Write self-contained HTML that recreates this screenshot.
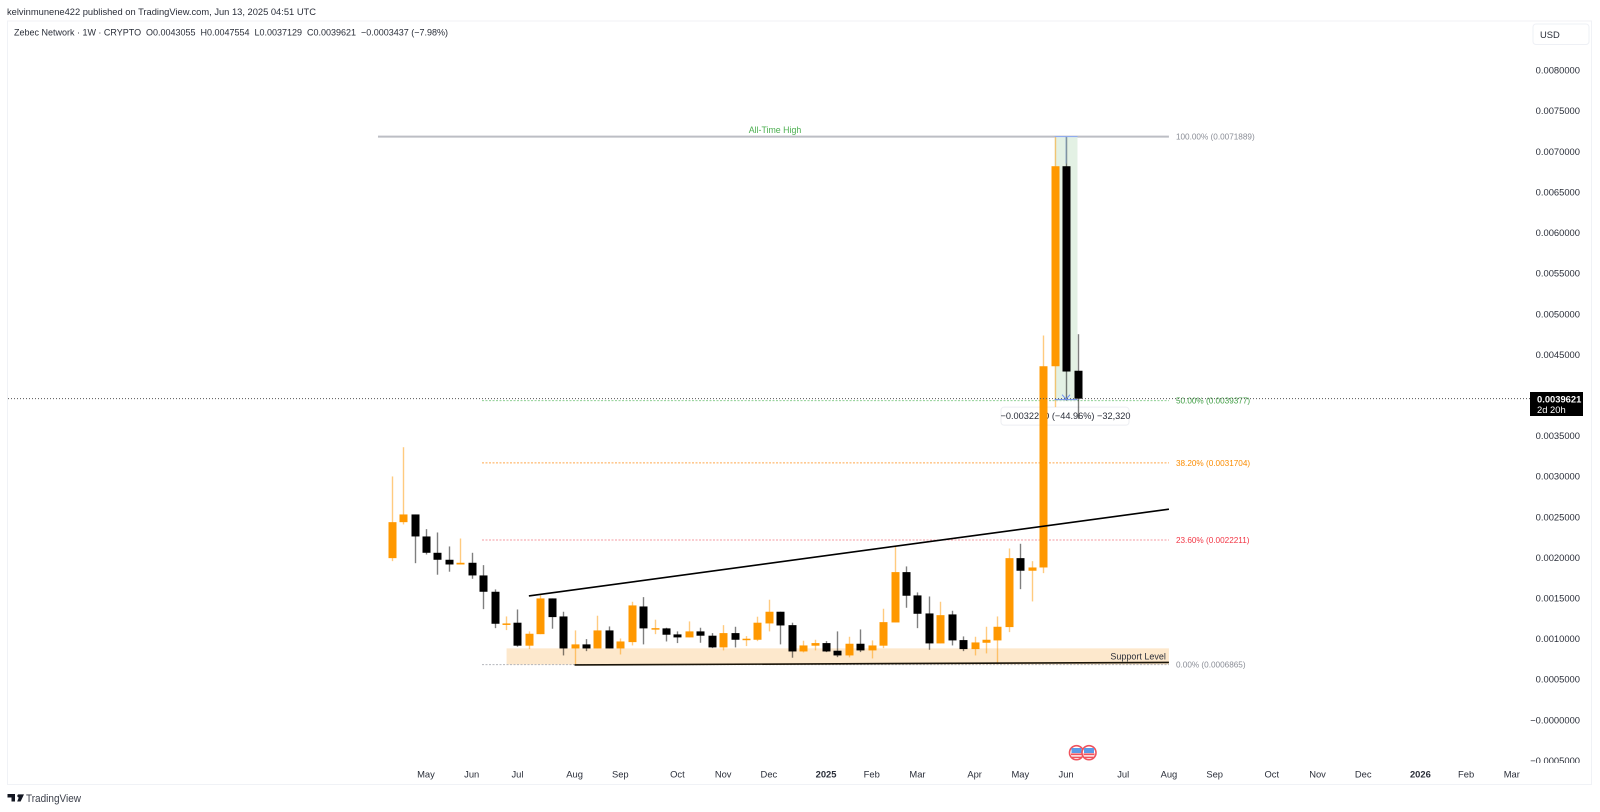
<!DOCTYPE html>
<html lang="en">
<head>
<meta charset="utf-8">
<title>Zebec Network weekly chart</title>
<style>
html,body{margin:0;padding:0;background:#fff;width:1600px;height:812px;overflow:hidden}
svg{display:block;font-family:"Liberation Sans",sans-serif}
</style>
</head>
<body>
<svg id="chart" xmlns="http://www.w3.org/2000/svg" width="1600" height="812" viewBox="0 0 1600 812">
  <rect x="0" y="0" width="1600" height="812" fill="#ffffff"/>
  <text x="7" y="15" font-size="9.4" textLength="309" lengthAdjust="spacingAndGlyphs" fill="#2a2e39">kelvinmunene422 published on TradingView.com, Jun 13, 2025 04:51 UTC</text>
  <rect x="7.5" y="21" width="1584" height="763.5" fill="none" stroke="#f0f2f6" stroke-width="1"/>
  <g id="drawings-back"></g>
  <g id="candles"></g>
  <g id="drawings-front"></g>
  <rect x="8" y="763" width="1583" height="21" fill="#ffffff"/>
  <g id="price-axis"></g>
  <g id="time-axis"></g>
  <text x="14" y="35.5" font-size="9.4" textLength="434" lengthAdjust="spacingAndGlyphs" fill="#2a2e39" xml:space="preserve">Zebec Network · 1W · CRYPTO  O0.0043055  H0.0047554  L0.0037129  C0.0039621  −0.0003437 (−7.98%)</text>
  <g>
    <rect x="1533" y="24" width="56" height="20.5" rx="3" fill="#ffffff" stroke="#eef0f5"/>
    <text x="1540" y="38" font-size="9.4" fill="#2a2e39">USD</text>
  </g>
  <g>
    <rect x="1530" y="392" width="53" height="24" fill="#000000"/>
    <text x="1537" y="402.5" font-size="9.4" font-weight="bold" fill="#ffffff">0.0039621</text>
    <text x="1537" y="413" font-size="9.4" fill="#ffffff">2d 20h</text>
  </g>
  <g>
    <g>
      <circle cx="1076.5" cy="752.7" r="7" fill="#fff" stroke="#f0525d" stroke-width="1.6"/>
      <rect x="1071.5" y="748" width="10" height="5" fill="#5b9be8"/>
      <rect x="1071" y="753.4" width="11" height="1.8" fill="#f0525d"/>
      <rect x="1072" y="756.6" width="9" height="1.5" fill="#f0525d"/>
    </g>
    <g>
      <circle cx="1089" cy="752.7" r="7" fill="#fff" stroke="#f0525d" stroke-width="1.6"/>
      <rect x="1084" y="748" width="10" height="5" fill="#5b9be8"/>
      <rect x="1083.5" y="753.4" width="11" height="1.8" fill="#f0525d"/>
      <rect x="1084.5" y="756.6" width="9" height="1.5" fill="#f0525d"/>
    </g>
  </g>
  <g>
    <path d="M7.5 794H15V801.5H11.5V797.5H7.5ZM19 794.2a1.7 1.7 0 1 1 -0.01 0ZM20 794.4H24L20.6 801.5H17.2Z" fill="#131722"/>
    <text x="26" y="802" font-size="10.6" textLength="55" lengthAdjust="spacingAndGlyphs" fill="#3a3e49">TradingView</text>
  </g>
</svg>
<script>
// Weekly candles, one entry per bar
const opens = [.001998,.002441,.002536,.002265,.002064,.001978,.001920,.001941,.001785,.001584,.001185,.001203,.000920,.001062,.001502,.001280,.000886,.000936,.000886,.001108,.000886,.000964,.001403,.001129,.001133,.001059,.001022,.001096,.001043,.000899,.001075,.000993,.000993,.001194,.001338,.001173,.000849,.000920,.000952,.000858,.000800,.000944,.000862,.000920,.001206,.001826,.001539,.001317,.000948,.001305,.000989,.000878,.000956,.000985,.001149,.001998,.001843,.001883,.004361,.006824,.0043055];
const highs = [.003004,.003364,.002536,.002355,.002314,.002142,.002240,.002064,.001912,.001613,.001280,.001366,.001096,.001542,.001502,.001338,.001108,.001001,.001289,.001157,.001009,.001461,.001518,.001240,.001141,.001096,.001219,.001141,.001075,.001173,.001153,.001038,.001277,.001486,.001338,.001203,.000981,.000993,.000976,.001096,.001030,.001120,.000985,.001375,.002142,.001896,.001576,.001526,.001461,.001350,.001034,.001030,.001153,.001280,.002117,.002175,.001961,.004739,.0071889,.0071889,.0047554];
const lows = [.001961,.002413,.001936,.002043,.001794,.001831,.001920,.001744,.001370,.001136,.001112,.000907,.000878,.001062,.001129,.000800,.000686,.000853,.000886,.000886,.000812,.000923,.000936,.001062,.000972,.000952,.001022,.000956,.000890,.000862,.000899,.000915,.000976,.001096,.000936,.000772,.000837,.000862,.000841,.000779,.000776,.000841,.000763,.000890,.001206,.001387,.001136,.000870,.000948,.000923,.000853,.000800,.000825,.000698,.001087,.001616,.001465,.001813,.003857,.003937,.0037129];
const closes = [.002441,.002536,.002265,.002064,.001978,.001920,.001941,.001785,.001584,.001190,.001194,.000920,.001067,.001502,.001272,.000886,.000936,.000886,.001108,.000886,.000972,.001416,.001133,.001136,.001055,.001022,.001096,.001043,.000899,.001075,.000993,.001006,.001203,.001338,.001169,.000849,.000923,.000952,.000849,.000800,.000944,.000862,.000923,.001210,.001826,.001535,.001313,.000948,.001296,.000985,.000878,.000960,.000993,.001153,.001998,.001843,.001883,.004361,.006824,.004296,.0039621];

// Axis ticks
const priceTicks = [.008,.0075,.007,.0065,.006,.0055,.005,.0045,.0035,.003,.0025,.002,.0015,.001,.0005,0,-.0005];
const priceTickLabels = ["0.0080000","0.0075000","0.0070000","0.0065000","0.0060000","0.0055000","0.0050000","0.0045000","0.0035000","0.0030000","0.0025000","0.0020000","0.0015000","0.0010000","0.0005000","−0.0000000","−0.0005000"];
const timeTickBars = [3,7,11,16,20,25,29,33,38,42,46,51,55,59,64,68,72,77,81,85,90,94,98];
const timeTickLabels = ["May","Jun","Jul","Aug","Sep","Oct","Nov","Dec","2025","Feb","Mar","Apr","May","Jun","Jul","Aug","Sep","Oct","Nov","Dec","2026","Feb","Mar"];

// Fibonacci levels and drawings
const fibPrices = [.0071889,.0039377,.0031704,.0022211,.0006865];
const fibLabels = ["100.00% (0.0071889)","50.00% (0.0039377)","38.20% (0.0031704)","23.60% (0.0022211)","0.00% (0.0006865)"];
const fibColors = ["#bcbec4","#8fd094","#ffa94d","#f59aa0","#b4b6bc"];
const fibTextColors = ["#8a8d96","#43a047","#fb8c00","#f23645","#8a8d96"];
const fibStartBars = [-1.2,7.9,7.9,7.9,7.9];
const fibEndBar = 68;
const lastPrice = 0.0039621;
const supportZoneBars = [10.05,68];
const supportZonePrices = [.000887,.0006865];
const upperTrendBars = [12,68];
const upperTrendPrices = [.001533,.002601];
const lowerTrendBars = [16,68];
const lowerTrendPrices = [.000683,.000714];
const rangeBars = [58,60];
const rangePrices = [.0071889,.003937];

const SVG_NS = "http://www.w3.org/2000/svg";
const BAR_ORIGIN = 391.7, BAR_STEP = 11.43, BAR_WIDTH = 8;
const PRICE_ZERO_Y = 720.4, PX_PER_PRICE = 81210;
function xScale(bar){ return BAR_ORIGIN + BAR_STEP * bar; }
function yScale(price){ return PRICE_ZERO_Y - PX_PER_PRICE * price; }
function make(tag, attrs, parent, text){
  const el = document.createElementNS(SVG_NS, tag);
  for (const k in attrs) el.setAttribute(k, attrs[k]);
  if (text !== undefined) el.textContent = text;
  parent.appendChild(el);
  return el;
}
const back = document.getElementById("drawings-back");
const candleLayer = document.getElementById("candles");
const front = document.getElementById("drawings-front");
const priceAxis = document.getElementById("price-axis");
const timeAxis = document.getElementById("time-axis");

// support zone
const zone = make("rect", {x:xScale(supportZoneBars[0]), y:yScale(supportZonePrices[0]), width:xScale(supportZoneBars[1])-xScale(supportZoneBars[0]), height:yScale(supportZonePrices[1])-yScale(supportZonePrices[0]), fill:"#fde8cc"}, back);


const zoneLabel = make("text", {x:xScale(supportZoneBars[1])-3, y:yScale(supportZonePrices[1])-5, "text-anchor":"end", "font-size":"9", fill:"#2a2e39"}, back, "Support Level");



// fib levels
fibPrices.forEach(function(p, i){
  const line = make("line", {x1:xScale(fibStartBars[i]), x2:xScale(fibEndBar), y1:yScale(p), y2:yScale(p), stroke:fibColors[i], "stroke-width": i===0 ? 2 : 1, "stroke-dasharray": i===0 ? "none" : "2 1.5"}, back);
  
  
  const label = make("text", {x:xScale(fibEndBar)+7, y:yScale(p)+3, "font-size":"8.2", fill:fibTextColors[i]}, back, fibLabels[i]);
  
  
});
const athLabel = make("text", {x:775, y:yScale(fibPrices[0])-3.5, "text-anchor":"middle", "font-size":"8.8", fill:"#4caf50"}, back, "All-Time High");



// price range measurement
const rx1 = xScale(rangeBars[0]), rx2 = xScale(rangeBars[1]);
const ry1 = yScale(rangePrices[0]), ry2 = yScale(rangePrices[1]);
const rangeBox = make("rect", {x:rx1, y:ry1, width:rx2-rx1, height:ry2-ry1, fill:"#e3f1e4"}, back);


const pill = make("rect", {x:1001, y:ry2+6.5, width:128, height:18, rx:3, fill:"#ffffff", stroke:"#eceef2", "stroke-width":1}, back);


const pillText = make("text", {x:1065.5, y:ry2+18.5, "text-anchor":"middle", "font-size":"9.2", fill:"#2a2e39"}, back, "−0.0032270 (−44.96%) −32,320");



// candles
opens.forEach(function(o, i){
  const up = closes[i] >= o;
  const cx = Math.round(xScale(i)) + 0.5;
  const wick = make("line", {x1:cx, x2:cx, y1:yScale(highs[i]), y2:yScale(lows[i]), stroke: up ? "rgba(255,152,0,0.5)" : "rgba(0,0,0,0.5)", "stroke-width":1.4}, candleLayer);
  
  
  const top = yScale(Math.max(o, closes[i]));
  const bottom = yScale(Math.min(o, closes[i]));
  const body = make("rect", {x:cx-BAR_WIDTH/2, y:top, width:BAR_WIDTH, height:Math.max(bottom-top,1.5), fill: up ? "#ff9800" : "#000000"}, candleLayer);
  
  
});

// trend lines
const upperTrend = make("line", {x1:xScale(upperTrendBars[0]), x2:xScale(upperTrendBars[1]), y1:yScale(upperTrendPrices[0]), y2:yScale(upperTrendPrices[1]), stroke:"#000", "stroke-width":1.6}, front);


const lowerTrend = make("line", {x1:xScale(lowerTrendBars[0]), x2:xScale(lowerTrendBars[1]), y1:yScale(lowerTrendPrices[0]), y2:yScale(lowerTrendPrices[1]), stroke:"#1a1408", "stroke-width":1.6}, front);



// range arrow
const rcx = xScale((rangeBars[0]+rangeBars[1])/2);
const rangeTop = make("line", {x1:rx1, x2:rx2, y1:ry1, y2:ry1, stroke:"#8aa8f5", "stroke-width":1}, front);


const rangeBottom = make("line", {x1:rx1, x2:rx2, y1:ry2-1, y2:ry2-1, stroke:"#6d8ff0", "stroke-width":1}, front);


const arrowHead = make("path", {d:"M"+(rcx-4)+" "+(ry2-6)+"L"+rcx+" "+(ry2-1.5)+"L"+(rcx+4)+" "+(ry2-6), fill:"none", stroke:"#6d8ff0", "stroke-width":1}, front);


const arrowShaftTop = make("line", {x1:rcx, x2:rcx, y1:ry1, y2:ry1+27, stroke:"#8aa8c5", "stroke-width":1}, front);



// last price line
const lastLine = make("line", {x1:8, x2:1530, y1:yScale(lastPrice), y2:yScale(lastPrice), stroke:"#555", "stroke-width":1, "stroke-dasharray":"1 2"}, front);



// price axis
priceTicks.forEach(function(p, i){
  const t = make("text", {x:1580, y:yScale(p)+2.9, "text-anchor":"end", "font-size":"9.4", fill:"#2a2e39"}, priceAxis, priceTickLabels[i]);
  
  
});

// time axis
const axisMask = make("rect", {x:1530, y:763, width:61, height:21, fill:"#fff"}, priceAxis);


timeTickBars.forEach(function(b, i){
  const isYear = /^\d+$/.test(timeTickLabels[i]);
  const t = make("text", {x:xScale(b), y:777.3, "text-anchor":"middle", "font-size":"9.4", "font-weight": isYear ? "bold" : "normal", fill:"#2a2e39"}, timeAxis, timeTickLabels[i]);
  
  
});
</script>
</body>
</html>
